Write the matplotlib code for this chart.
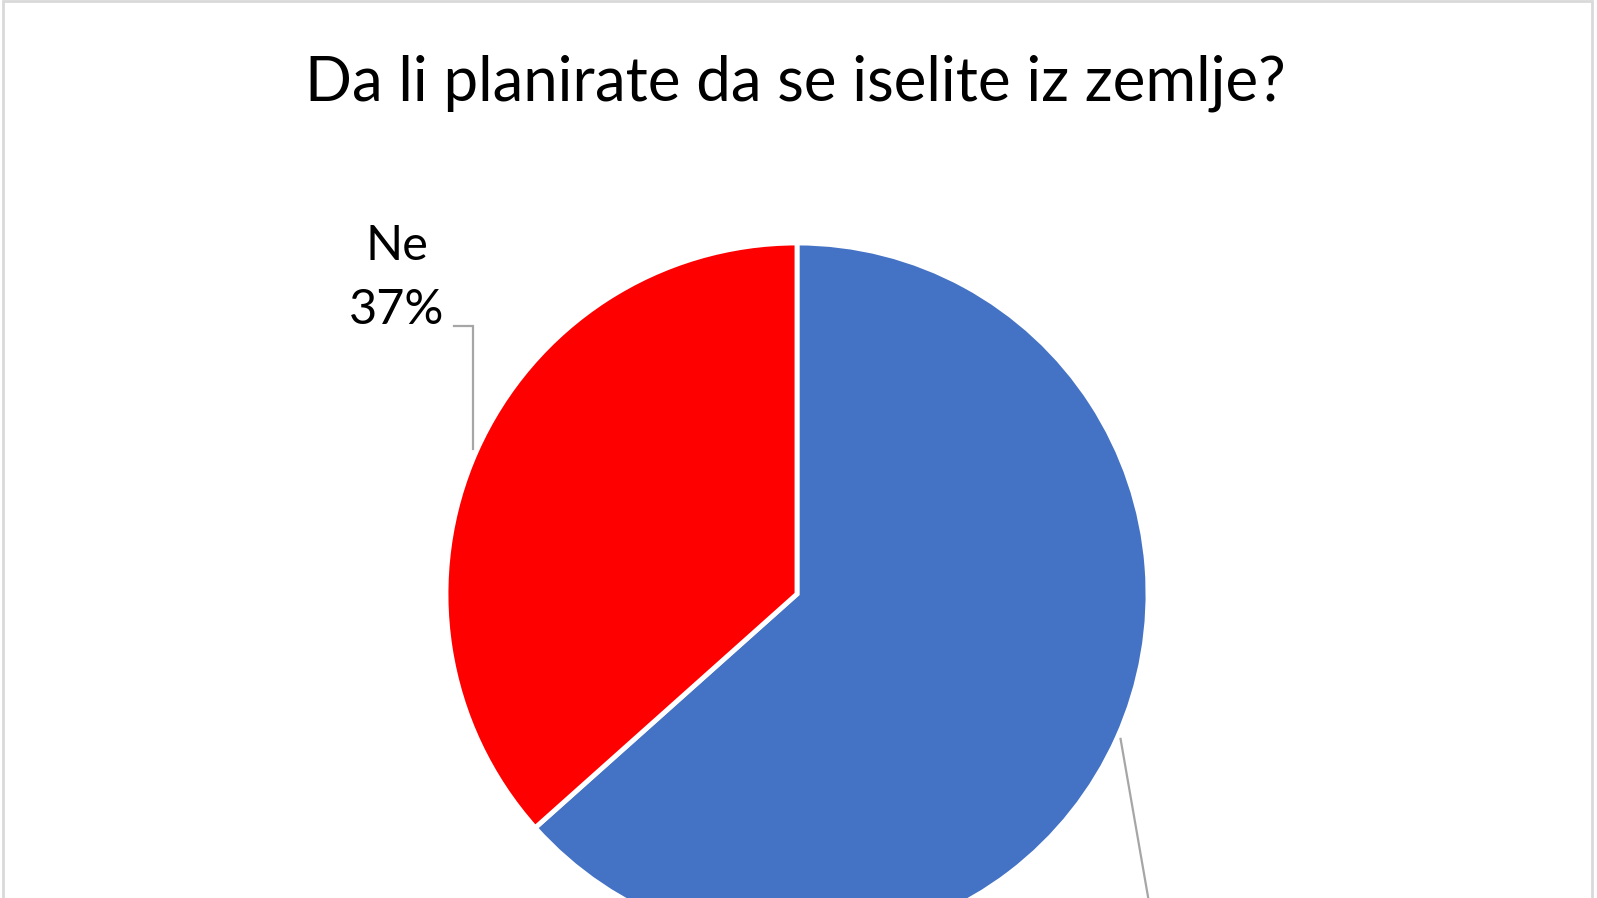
import numpy as np
import matplotlib
matplotlib.use("Agg")
import matplotlib.pyplot as plt
from matplotlib.patches import Rectangle

title = "Da li planirate da se iselite iz zemlje?"
categories = ["Da", "Ne"]
values = [63.4, 36.6]
colors = ["#4472C4", "#FF0000"]

W, H = 1597, 898
fig = plt.figure(figsize=(W / 100, H / 100), dpi=100)
ax = fig.add_axes([0, 0, 1, 1])

cx, cy, R = 797, 898 - 594, 351
wedges, _ = ax.pie(values, colors=colors, startangle=90, counterclock=False,
                   center=(cx, cy), radius=R, frame=True,
                   wedgeprops=dict(edgecolor="white", linewidth=3.5))
ax.set_xlim(0, W)
ax.set_ylim(0, H)
ax.set_aspect("equal")
ax.axis("off")

font = "Lato"
fig.text(0.498, 1 - 83 / H, title, ha="center", va="center",
         fontsize=44.5, family=font, color="black")

# label positions (layout) for each slice
label_pos = {"Ne": (397, 898 - 278)}
grey = "#A6A6A6"
for w, cat, v in zip(wedges, categories, values):
    mid = np.deg2rad((w.theta1 + w.theta2) / 2)
    sx, sy = cx + R * 1.01 * np.cos(mid), cy + R * 1.01 * np.sin(mid)
    if cat in label_pos:
        lx, ly = label_pos[cat]
        ax.text(lx, ly, f"{cat}\n{int(v + 0.5)}%", ha="center", va="center",
                fontsize=35, family=font, color="black", linespacing=1.55)
        ax.plot([454, sx, sx], [898 - 326, 898 - 326, sy], color=grey, lw=1.6,
                solid_joinstyle="miter")
    else:
        # label of this slice lies below the visible area
        ax.plot([sx, sx + 40], [sy, sy - 230], color=grey, lw=1.6)

fig.patches.append(Rectangle((3 / W, -0.1), (1592 - 3) / W, 1.1 - 1.5 / H,
                             transform=fig.transFigure, fill=False,
                             edgecolor="#D9D9D9", linewidth=2))
fig.savefig("out.png", dpi=100, facecolor="white")
